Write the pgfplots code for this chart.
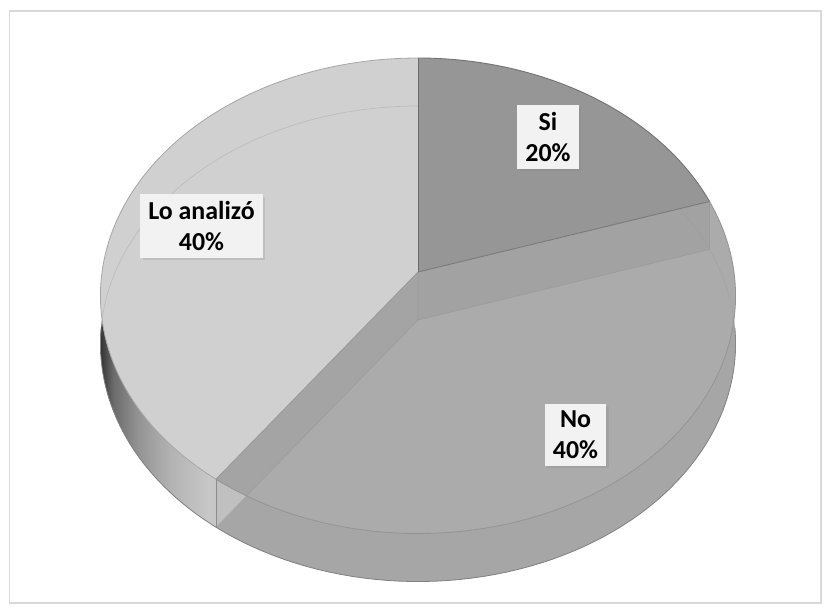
\documentclass[border=0pt]{standalone}
\usepackage{pgfplots}
\pgfplotsset{compat=1.18}
\usepackage{pgfplotstable}
\usepackage{fontspec}
\setmainfont{Carlito}
\usetikzlibrary{shadows}

\definecolor{siC}{HTML}{969696}
\definecolor{noC}{HTML}{ABABAB}
\definecolor{loC}{HTML}{D0D0D0}
\definecolor{wallC}{HTML}{A6A6A6}
\definecolor{frameC}{HTML}{D9D9D9}
\definecolor{boxC}{HTML}{F2F2F2}

\pgfdeclarehorizontalshading{lowall}{100bp}{color(0bp)=(black!80); color(25bp)=(black!80); color(27bp)=(black!58); color(31bp)=(black!42); color(36bp)=(black!30); color(42bp)=(black!22); color(75bp)=(black!18); color(100bp)=(black!18)}

\tikzset{lbl/.style={fill=boxC, align=center, font=\fontsize{26}{31}\selectfont\bfseries,
    inner xsep=8bp, inner ysep=7bp, text=black,
    drop shadow={opacity=0.22, shadow xshift=2.5bp, shadow yshift=-2.5bp}}}

\pgfplotstableread{
slice value
Si 20
No 40
Lo 40
}\piedata

\begin{document}
\begin{tikzpicture}
\pgfplotstablegetelem{0}{value}\of\piedata \pgfmathsetmacro{\vA}{\pgfplotsretval}
\pgfplotstablegetelem{1}{value}\of\piedata \pgfmathsetmacro{\vB}{\pgfplotsretval}
\pgfplotstablegetelem{2}{value}\of\piedata \pgfmathsetmacro{\vC}{\pgfplotsretval}
\pgfmathsetmacro{\tot}{\vA+\vB+\vC}
\pgfmathsetmacro{\aA}{(360/\tot)*\vA}
\pgfmathsetmacro{\aB}{(360/\tot)*(\vA+\vB)}
\pgfmathsetmacro{\xA}{418+316*sin(\aA)/(1+0.1*cos(\aA))}
\pgfmathsetmacro{\yA}{272-235.4*cos(\aA)/(1+0.1*cos(\aA))}
\pgfmathsetmacro{\yAb}{\yA+48}
\pgfmathsetmacro{\xB}{418+316*sin(\aB)/(1+0.1*cos(\aB))}
\pgfmathsetmacro{\yB}{272-235.4*cos(\aB)/(1+0.1*cos(\aB))}
\pgfmathsetmacro{\yBb}{\yB+48}
\begin{axis}[
  x=1bp, y=1bp, xmin=0, xmax=830, ymin=0, ymax=612, y dir=reverse,
  hide axis, clip=true,
  declare function={
    px(\t)=418+316*sin(\t)/(1+0.1*cos(\t));
    py(\t)=272-235.4*cos(\t)/(1+0.1*cos(\t));
  },
  pie/.style={variable=\t, samples=90},
]
\path[fill=white] (axis cs:0,0) rectangle (axis cs:830,612);
\draw[frameC, line width=1.5bp] (axis cs:9.5,11) rectangle (axis cs:821,603);

% bottom (depth) wedges -> side walls
\addplot[pie, draw=none, fill=wallC, domain=\aA:\aB] ({px(\t)},{py(\t)+48}) -- (axis cs:418,320) -- cycle;
\addplot[pie, draw=none, shade, shading=lowall, domain=\aB:360] ({px(\t)},{py(\t)+48}) -- (axis cs:418,320) -- cycle;
\addplot[pie, draw=black!50, line width=0.8bp, domain=92:268] ({px(\t)},{py(\t)+48});

% top faces
\addplot[pie, fill=siC, draw=none, domain=0:\aA] ({px(\t)},{py(\t)}) -- (axis cs:418,272) -- cycle;
\addplot[pie, fill=noC, draw=none, domain=\aA:\aB] ({px(\t)},{py(\t)}) -- (axis cs:418,272) -- cycle;
\addplot[pie, fill=loC, draw=none, domain=\aB:360] ({px(\t)},{py(\t)}) -- (axis cs:418,272) -- cycle;

% radial faces seen through the translucent slice
\fill[black, fill opacity=0.05] (axis cs:418,272) -- (axis cs:418,320) -- (axis cs:\xA,\yAb) -- (axis cs:\xA,\yA) -- cycle;
\fill[black, fill opacity=0.04] (axis cs:418,272) -- (axis cs:418,320) -- (axis cs:\xB,\yBb) -- (axis cs:\xB,\yB) -- cycle;
\draw[black!45, opacity=0.35, line width=0.7bp] (axis cs:418,272) -- (axis cs:418,320) -- (axis cs:\xA,\yAb) -- (axis cs:\xA,\yA);
\draw[black!45, opacity=0.35, line width=0.7bp] (axis cs:418,320) -- (axis cs:\xB,\yBb);
\addplot[pie, draw=black!40, opacity=0.35, line width=0.7bp, domain=262:458] ({px(\t)},{py(\t)+48});
\draw[black!45, line width=0.7bp] (axis cs:\xB,\yB) -- (axis cs:\xB,\yBb);

% top edges
\addplot[pie, draw=black!55, line width=0.9bp, domain=0:\aA] ({px(\t)},{py(\t)});
\addplot[pie, draw=black!42, line width=0.8bp, domain=\aA:\aB] ({px(\t)},{py(\t)});
\addplot[pie, draw=black!35, line width=0.8bp, domain=\aB:360] ({px(\t)},{py(\t)});
\draw[black!58, line width=0.9bp] (axis cs:418,272) -- (axis cs:418,58);
\draw[black!52, line width=0.9bp] (axis cs:418,272) -- (axis cs:\xA,\yA);
\draw[black!40, line width=0.8bp] (axis cs:418,272) -- (axis cs:\xB,\yB);

% labels
\node[lbl] at (axis cs:548,137) {Si\\20\%};
\node[lbl] at (axis cs:201.5,226) {Lo analizó\\40\%};
\node[lbl] at (axis cs:575.5,435) {No\\40\%};
\end{axis}
\end{tikzpicture}
\end{document}
